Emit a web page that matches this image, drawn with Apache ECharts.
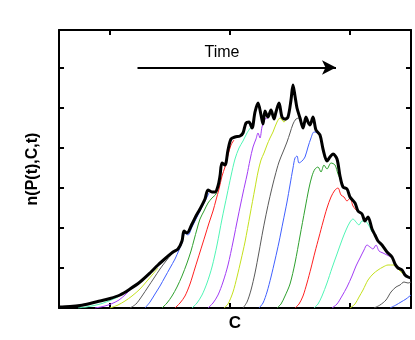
<!DOCTYPE html>
<html>
<head>
<meta charset="utf-8">
<script src="https://cdn.jsdelivr.net/npm/echarts@6/dist/echarts.min.js"></script>
<style>
html, body { margin: 0; padding: 0; background: #fff; }
#chart { width: 415px; height: 340px; }
</style>
</head>
<body>
<div id="chart"></div>
<script>
// C is measured from the left edge of the axes, n from the bottom (arbitrary units)
var envelope = [[0,0.5],[1,1],[11,1.5],[21,2.5],[31,4.5],[41,7],[51,9.5],[61,13],[71,19],[81,26],[91,35],[99,43],[108,51],[114,56],[119,59],[123,67],[125,77],[128,75],[133,84],[137,92],[141,99],[146,109],[149,118],[153,116],[156,116],[159,122],[161,132],[163,145],[166,143],[169,158],[172,169],[176,171],[181,172],[184,175],[187,185],[190,186],[193,180],[196,196],[199,205],[202,193],[204,184],[206,197],[209,191],[212,198],[215,189],[217,196],[220,205],[223,191],[226,189],[229,191],[232,208],[234,223],[236,212],[238,200],[241,190],[244,180],[247,191],[249,186],[251,183],[254,191],[257,178],[261,173],[264,159],[268,147],[271,151],[274,154],[278,149],[281,132],[284,121],[288,119],[291,111],[296,105],[299,97],[303,94],[306,87],[309,91],[313,79],[316,73],[319,67],[323,63],[328,56],[333,51],[336,44],[339,40],[343,38],[346,33],[349,31],[352,30]];

// one curve per time step, left to right
var run01 = [[2,0.5],[11,1.2],[19,2],[27,3.2]];
var run02 = [[19,0],[27,1],[35,2.5],[43,4.5],[51,7.5],[59,11]];
var run03 = [[36,0],[44,1.5],[52,4],[60,8],[67,14],[74,21]];
var run04 = [[51,0],[59,3],[66,7],[73,12],[81,19],[88,27],[94,34],[99,40]];
var run05 = [[71,0],[77,4],[83,12],[89,21],[95,30],[101,39],[107,47],[113,54],[118,58]];
var run06 = [[86,0],[91,6],[96,14],[101,22],[106,31],[111,40],[116,49],[120,58],[123,65],[126,75],[129,73],[133,81],[137,89],[141,97],[146,107],[150,115]];
var run07 = [[103,0],[108,5],[113,12],[118,21],[123,32],[128,45],[132,57],[135,68],[138,79],[141,89],[145,97],[149,105],[153,110],[157,114],[160,123]];
var run08 = [[116,0],[121,5],[126,12],[131,24],[136,40],[141,56],[146,72],[150,85],[154,97],[157,108],[160,119],[163,132],[166,141],[169,153],[172,163],[175,168]];
var run09 = [[133,0],[138,5],[143,13],[148,25],[153,41],[158,63],[163,89],[168,113],[172,132],[176,149],[180,160],[184,167],[188,175],[192,181]];
var run10 = [[149,0],[154,5],[159,13],[164,26],[169,43],[174,66],[179,91],[184,115],[188,133],[191,148],[194,161],[197,169],[199,175],[201,170],[203,181],[206,189],[209,190]];
var run11 = [[165,0],[169,4],[174,16],[178,31],[182,48],[186,66],[191,93],[196,120],[199,136],[202,148],[205,155],[208,163],[211,170],[214,176],[218,186],[221,190],[225,186],[228,190]];
var run12 = [[184,0],[188,6],[192,18],[196,35],[200,56],[204,78],[208,98],[212,116],[216,132],[220,146],[224,156],[228,166],[231,175],[234,184],[237,189],[240,190]];
var run13 = [[200,0],[204,5],[208,16],[212,31],[216,48],[220,66],[224,86],[228,106],[231,123],[234,140],[236,150],[238,152],[240,145],[243,147],[246,151],[249,161],[252,170],[255,176],[259,175],[262,170]];
var run14 = [[218,0],[222,4],[226,12],[231,24],[236,45],[241,72],[246,99],[250,120],[253,132],[256,139],[259,141],[262,136],[265,143],[268,139],[272,145],[276,143],[279,134],[283,125]];
var run15 = [[236,0],[240,4],[244,12],[248,25],[252,40],[256,56],[260,71],[264,86],[268,100],[272,111],[276,118],[279,120],[282,113],[285,111],[288,107],[291,110],[294,102],[298,97]];
var run16 = [[255,0],[259,4],[263,12],[268,25],[273,40],[278,54],[283,68],[287,78],[291,86],[294,89],[297,86],[300,83],[303,87],[306,87],[309,84],[313,76]];
var run17 = [[273,0],[278,4],[283,12],[288,21],[293,32],[297,42],[301,50],[305,58],[308,63],[311,61],[314,59],[317,63],[320,57],[324,55],[328,53],[332,51]];
var run18 = [[291,0],[296,4],[300,11],[304,18],[309,28],[314,34],[319,38],[324,41],[329,43],[334,43],[338,40],[342,36],[346,33]];
var run19 = [[315,0],[321,3],[327,8],[332,16],[337,21],[341,23],[345,26],[349,25],[352,26]];
var run20 = [[331,0],[337,3],[342,6],[347,9],[352,13]];

var runs = [run01, run02, run03, run04, run05, run06, run07, run08, run09, run10,
            run11, run12, run13, run14, run15, run16, run17, run18, run19, run20];
var runColors = ['#ff2020', '#4ff5b5', '#a23cf5', '#c4e01c', '#5a5a5a', '#4060ff', '#2ea02e'];

var xTicks = [51, 171, 291];
var arrowFrom = [78.5, 240.5];
var arrowTo = [277, 240.5];

var myChart = echarts.init(document.getElementById('chart'));
var font = 'Liberation Sans, Arial, sans-serif';

var series = runs.map(function (d, i) {
    return {
        type: 'line',
        data: d,
        showSymbol: false,
        smooth: 0.3,
        lineStyle: { width: 1, color: runColors[i % runColors.length] },
        z: 2
    };
});
series.push({
    type: 'line',
    data: envelope,
    showSymbol: false,
    smooth: 0.3,
    lineStyle: { width: 3, color: '#000' },
    z: 3,
    markLine: {
        silent: true,
        symbol: ['none', 'arrow'],
        symbolSize: [11, 14],
        lineStyle: { color: '#000', width: 2, type: 'solid' },
        label: { show: false },
        data: [[{ coord: arrowFrom }, { coord: arrowTo }]]
    }
});

function boxAxis(pos, extra) {
    var ax = {
        type: 'value',
        position: pos,
        axisLine: { show: true, onZero: false, lineStyle: { color: '#000', width: 2 } },
        axisTick: { show: true, inside: true, length: 5, lineStyle: { color: '#000', width: 2 } },
        axisLabel: { show: false },
        splitLine: { show: false }
    };
    return Object.assign(ax, extra);
}

var option = {
    animation: false,
    backgroundColor: '#fff',
    grid: { left: 59, top: 30, width: 352, height: 278 },
    xAxis: [
        boxAxis('bottom', {
            min: 0, max: 352,
            name: 'C', nameLocation: 'middle', nameGap: 7,
            nameTextStyle: { fontFamily: font, fontWeight: 'bold', fontSize: 17, color: '#000' },
            axisTick: { show: true, inside: true, length: 5, customValues: xTicks, lineStyle: { color: '#000', width: 2 } }
        }),
        boxAxis('top', {
            min: 0, max: 352,
            axisTick: { show: true, inside: true, length: 5, customValues: xTicks, lineStyle: { color: '#000', width: 2 } }
        })
    ],
    yAxis: [
        boxAxis('left', {
            min: 0, max: 278, interval: 40,
            name: 'n(P(t),C,t)', nameLocation: 'middle', nameGap: 18, nameRotate: 90,
            nameTextStyle: { fontFamily: font, fontWeight: 'bold', fontSize: 16, color: '#000' }
        }),
        boxAxis('right', { min: 0, max: 278, interval: 40 })
    ],
    graphic: [{
        type: 'text',
        x: 222, y: 53,
        style: { text: 'Time', font: '16px ' + font, fill: '#000', align: 'center', verticalAlign: 'middle' }
    }],
    series: series
};
myChart.setOption(option);
</script>
</body>
</html>
